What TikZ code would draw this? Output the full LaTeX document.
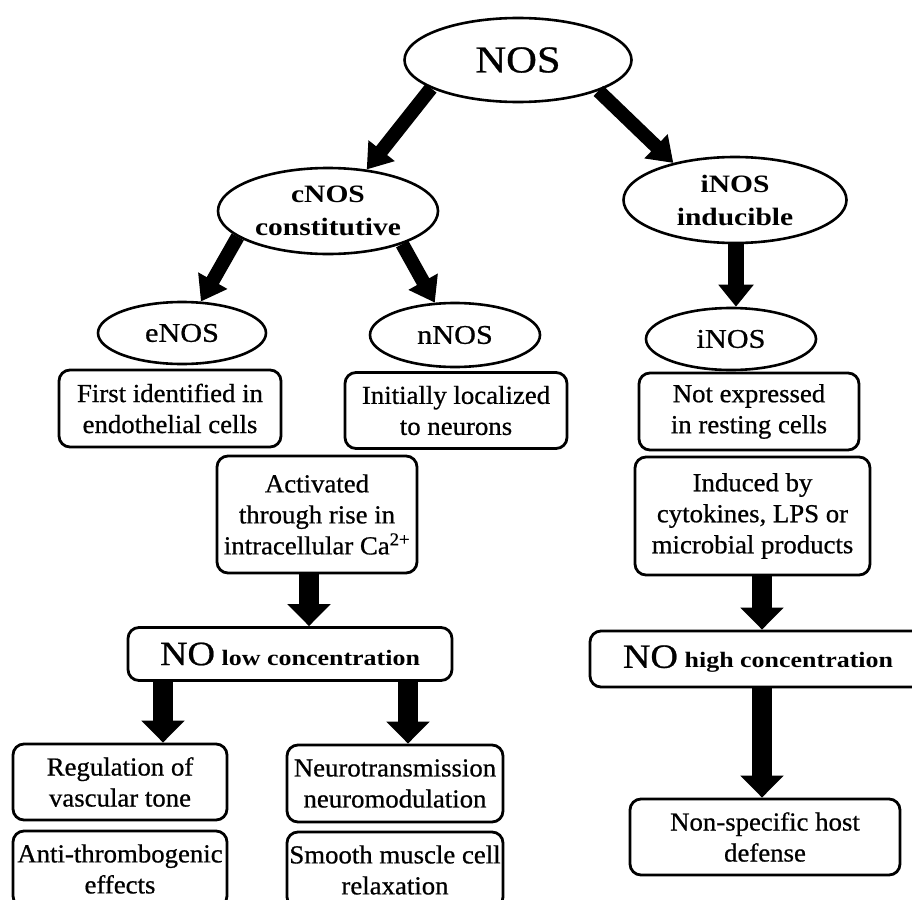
\documentclass[tikz,border=0pt]{standalone}
\usepackage{fontspec}
\setmainfont{Liberation Serif}
\newfontfamily\boxf[FakeStretch=1.03,FakeBold=0.7]{Liberation Serif}
\newfontfamily\widef[FakeStretch=1.12,FakeBold=0.7]{Liberation Serif}
\newfontfamily\wideb[FakeStretch=1.18]{Liberation Serif}
\usetikzlibrary{shapes.geometric,arrows.meta}
\tikzset{
  ell/.style={ellipse, draw, line width=2.6pt, fill=white, inner sep=0pt, align=center},
  rbox/.style={rectangle, rounded corners=11pt, draw, line width=2.8pt, fill=white,
    inner sep=0pt, align=center, font=\boxf\fontsize{26}{31}\selectfont},
  bigarr/.style={line width=20pt, -{Triangle[width=42pt,length=22pt]}},
  diagarr/.style={line width=14pt, -{Triangle[width=32pt,length=24pt]}},
  midarr/.style={line width=16pt, -{Triangle[width=34pt,length=22pt]}},
  ellbold/.style={font=\wideb\bfseries\fontsize{25}{33}\selectfont},
  ellreg/.style={font=\widef\fontsize{27}{30}\selectfont},
}
\begin{document}
\begin{tikzpicture}[x=1pt,y=-1pt]
\useasboundingbox (0,0) rectangle (912,899);
\clip (0,0) rectangle (912,899);

% ellipses
\node[ell, minimum width=227pt, minimum height=84pt, font=\widef\fontsize{38}{40}\selectfont] (nos) at (518,60) {NOS};
\node[ell, ellbold, minimum width=220pt, minimum height=86pt] (cnos) at (328,211) {cNOS\\constitutive};
\node[ell, ellbold, minimum width=223pt, minimum height=86pt] (inosa) at (735,200) {iNOS\\inducible};
\node[ell, ellreg, minimum width=168pt, minimum height=62pt] (enos) at (182,333) {eNOS};
\node[ell, ellreg, minimum width=170pt, minimum height=64pt] (nnos) at (455,335) {nNOS};
\node[ell, ellreg, minimum width=170pt, minimum height=62pt] (inosb) at (731,339) {iNOS};

% boxes
\node[rbox, minimum width=222pt, minimum height=77pt] (first) at (170,408.5) {First identified in\\endothelial cells};
\node[rbox, minimum width=222pt, minimum height=76pt] (init) at (456,410.5) {Initially localized\\to neurons};
\node[rbox, minimum width=220pt, minimum height=77pt] (notexp) at (749,411.5) {Not expressed\\in resting cells};
\node[rbox, minimum width=200pt, minimum height=117pt] (act) at (317,514.5) {Activated\\through rise in\\intracellular Ca\textsuperscript{2+}};
\node[rbox, minimum width=235pt, minimum height=118pt] (ind) at (752.5,516) {Induced by\\cytokines, LPS or\\microbial products};
\node[rbox, minimum width=324pt, minimum height=53pt] (nolow) at (290,654)
  {{\widef\fontsize{34}{36}\selectfont NO} {\wideb\bfseries\fontsize{22}{24}\selectfont low concentration}};
\node[rbox, minimum width=336pt, minimum height=56pt] (nohigh) at (758,659)
  {{\widef\fontsize{34}{36}\selectfont NO} {\wideb\bfseries\fontsize{22}{24}\selectfont high concentration}};
\node[rbox, minimum width=214pt, minimum height=76pt] (reg) at (120,782) {Regulation of\\vascular tone};
\node[rbox, minimum width=216pt, minimum height=77pt] (neuro) at (395,783.5) {Neurotransmission\\neuromodulation};
\node[rbox, minimum width=214pt, minimum height=76pt] (anti) at (120,869) {Anti-thrombogenic\\effects};
\node[rbox, minimum width=216pt, minimum height=76pt] (smooth) at (395,870) {Smooth muscle cell\\relaxation};
\node[rbox, minimum width=270pt, minimum height=76pt] (nonsp) at (765,837) {Non-specific host\\defense};

% x positions of vertical connectors
\coordinate (xa) at (309,0);
\coordinate (xb) at (163,0);
\coordinate (xc) at (408,0);
\coordinate (xd) at (762,0);
\coordinate (xe) at (736,0);

% connectors
\draw[diagarr] (nos.198) -- (cnos.47);
\draw[diagarr] (nos.-21) -- (inosa.149);
\draw[diagarr] (cnos.196) -- (enos.59);
\draw[diagarr] (cnos.-24) -- (nnos.122);
\draw[midarr] (xe |- inosa.south) -- (xe |- inosb.north);
\draw[bigarr] (xa |- act.south) -- (xa |- nolow.north);
\draw[bigarr] (xb |- nolow.south) -- (xb |- reg.north);
\draw[bigarr] (xc |- nolow.south) -- (xc |- neuro.north);
\draw[bigarr] (xd |- ind.south) -- (xd |- nohigh.north);
\draw[bigarr] (xd |- nohigh.south) -- (xd |- nonsp.north);
\end{tikzpicture}
\end{document}
